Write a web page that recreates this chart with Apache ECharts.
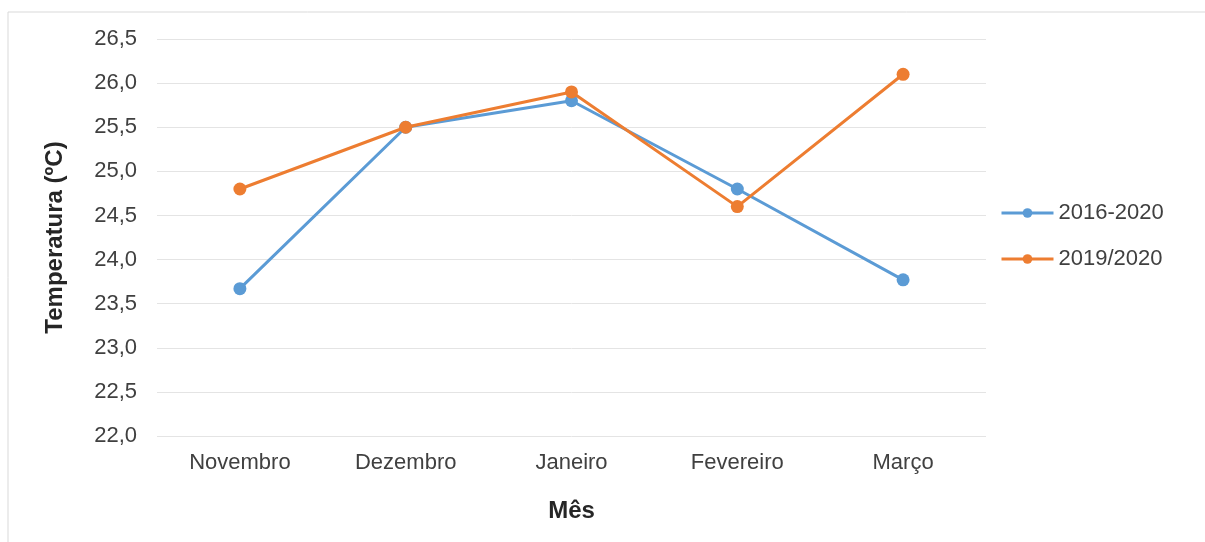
<!DOCTYPE html>
<html>
<head>
<meta charset="utf-8">
<script src="https://cdn.jsdelivr.net/npm/echarts@6/dist/echarts.min.js"></script>
<style>
  html, body { margin: 0; padding: 0; background: #fff; }
  #chart { width: 1205px; height: 542px; }
</style>
</head>
<body>
<div id="chart"></div>
<script>
// meses e temperaturas médias
const months = ['Novembro', 'Dezembro', 'Janeiro', 'Fevereiro', 'Março'];
const temp20162020 = [23.67, 25.5, 25.8, 24.8, 23.77];
const temp20192020 = [24.8, 25.5, 25.9, 24.6, 26.1];
const seriesNames = ['2016-2020', '2019/2020'];
const colors = ['#5b9bd5', '#ed7d31'];

const chart = echarts.init(document.getElementById('chart'));

const font = 'Liberation Sans, Arial, sans-serif';

chart.setOption({
  color: colors,
  textStyle: { fontFamily: font },
  graphic: [{
    type: 'rect',
    shape: { x: 8, y: 12, width: 1220, height: 560 },
    style: { fill: 'none', stroke: '#d9d9d9', lineWidth: 1 },
    silent: true
  }],
  legend: {
    orient: 'vertical',
    left: 995,
    top: 197,
    itemWidth: 52,
    itemHeight: 12,
    itemGap: 24,
    lineStyle: { width: 3 },
    textStyle: { fontSize: 22, color: '#404040', fontFamily: font },
    data: seriesNames
  },
  grid: {
    left: 157,
    right: 219,
    top: 39,
    bottom: 106
  },
  xAxis: {
    type: 'category',
    data: months,
    name: 'Mês',
    nameLocation: 'middle',
    nameGap: 63,
    nameTextStyle: { fontSize: 24, fontWeight: 'bold', color: '#262626' },
    axisLine: { show: false },
    axisTick: { show: false },
    axisLabel: { fontSize: 22, color: '#404040', margin: 16 }
  },
  yAxis: {
    type: 'value',
    min: 22,
    max: 26.5,
    interval: 0.5,
    name: 'Temperatura (ºC)',
    nameLocation: 'middle',
    nameGap: 90,
    nameTextStyle: { fontSize: 24, fontWeight: 'bold', color: '#262626' },
    axisLine: { show: false },
    axisTick: { show: false },
    axisLabel: {
      fontSize: 22,
      color: '#404040',
      margin: 20,
      formatter: v => v.toFixed(1).replace('.', ',')
    },
    splitLine: { lineStyle: { color: '#e4e4e4', width: 1 } }
  },
  series: [
    {
      name: seriesNames[0],
      type: 'line',
      data: temp20162020,
      symbol: 'circle',
      symbolSize: 13,
      lineStyle: { width: 3 },
      z: 2
    },
    {
      name: seriesNames[1],
      type: 'line',
      data: temp20192020,
      symbol: 'circle',
      symbolSize: 13,
      lineStyle: { width: 3 },
      z: 3
    }
  ]
});
</script>
</body>
</html>
